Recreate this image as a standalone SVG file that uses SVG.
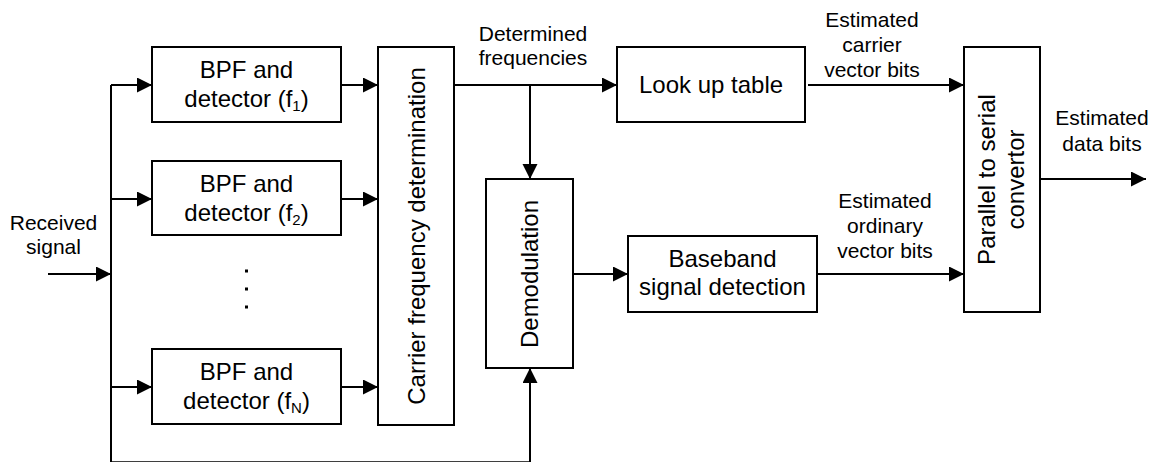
<svg xmlns="http://www.w3.org/2000/svg" width="1160" height="462" viewBox="0 0 1160 462">
<style>
.box{fill:#fff;stroke:#000;stroke-width:2}
.t{font-family:"Liberation Sans",Arial,sans-serif;font-size:24px;fill:#000;text-anchor:middle}
.l{font-family:"Liberation Sans",Arial,sans-serif;font-size:21px;fill:#000;text-anchor:middle}
.c{fill:none;stroke:#000;stroke-width:2}
.a{marker-end:url(#ah)}
</style>
<defs>
<marker id="ah" markerUnits="userSpaceOnUse" markerWidth="16" markerHeight="16" refX="15" refY="7.5" orient="auto">
<path d="M0,0 L15,7.5 L0,15 Z" fill="#000"/>
</marker>
</defs>
<g id="connectors">
<path class="c a" d="M48,274 H111"/>
<path class="c" d="M111,85 V462.3 H530 V380"/>
<path class="c a" d="M530,440 V368"/>
<path class="c a" d="M111,85 H152"/>
<path class="c a" d="M111,199 H152"/>
<path class="c a" d="M111,387 H152"/>
<path class="c a" d="M341,85 H378"/>
<path class="c a" d="M341,199 H378"/>
<path class="c a" d="M341,387 H378"/>
<path class="c a" d="M454,85 H617"/>
<path class="c a" d="M530,85 V179"/>
<path class="c a" d="M573,274 H628"/>
<path class="c a" d="M808,85 H964"/>
<path class="c a" d="M817,274 H964"/>
<path class="c a" d="M1040,179 H1146"/>
</g>
<g id="bpf1">
<rect class="box" x="152" y="47" width="189" height="75"/>
<text class="t" x="246.5" y="78">BPF and</text>
<text class="t" x="246.5" y="107">detector (f<tspan font-size="15" dy="4">1</tspan><tspan dy="-4">)</tspan></text>
</g>
<g id="bpf2">
<rect class="box" x="152" y="161" width="189" height="74"/>
<text class="t" x="246.5" y="192">BPF and</text>
<text class="t" x="246.5" y="221">detector (f<tspan font-size="15" dy="4">2</tspan><tspan dy="-4">)</tspan></text>
</g>
<g id="dots">
<rect x="245" y="269.5" width="3" height="3"/>
<rect x="245" y="287.5" width="3" height="3"/>
<rect x="245" y="305.5" width="3" height="3"/>
</g>
<g id="bpfN">
<rect class="box" x="152" y="349" width="189" height="75"/>
<text class="t" x="246.5" y="380">BPF and</text>
<text class="t" x="246.5" y="409">detector (f<tspan font-size="15" dy="4">N</tspan><tspan dy="-4">)</tspan></text>
</g>
<g id="carrier">
<rect class="box" x="378" y="47" width="76" height="378"/>
<text class="t" transform="translate(424.5,236) rotate(-90)">Carrier frequency determination</text>
</g>
<g id="demod">
<rect class="box" x="486" y="179" width="87" height="189"/>
<text class="t" transform="translate(538,274) rotate(-90)">Demodulation</text>
</g>
<g id="lut">
<rect class="box" x="617" y="47" width="188" height="75"/>
<text class="t" x="711" y="93">Look up table</text>
</g>
<g id="baseband">
<rect class="box" x="628" y="236" width="189" height="76"/>
<text class="t" x="722.5" y="267">Baseband</text>
<text class="t" x="722.5" y="295">signal detection</text>
</g>
<g id="p2s">
<rect class="box" x="964" y="47" width="76" height="265"/>
<text class="t" transform="translate(995,179.5) rotate(-90)">Parallel to serial</text>
<text class="t" transform="translate(1024,179.5) rotate(-90)">convertor</text>
</g>
<g id="labels">
<text class="l" x="53.5" y="230">Received</text>
<text class="l" x="53.5" y="254">signal</text>
<text class="l" x="533" y="41">Determined</text>
<text class="l" x="533" y="65">frequencies</text>
<text class="l" x="872" y="27">Estimated</text>
<text class="l" x="872" y="52">carrier</text>
<text class="l" x="872" y="77">vector bits</text>
<text class="l" x="885" y="208">Estimated</text>
<text class="l" x="885" y="233">ordinary</text>
<text class="l" x="885" y="258">vector bits</text>
<text class="l" x="1102" y="125">Estimated</text>
<text class="l" x="1102" y="151">data bits</text>
</g>
</svg>
